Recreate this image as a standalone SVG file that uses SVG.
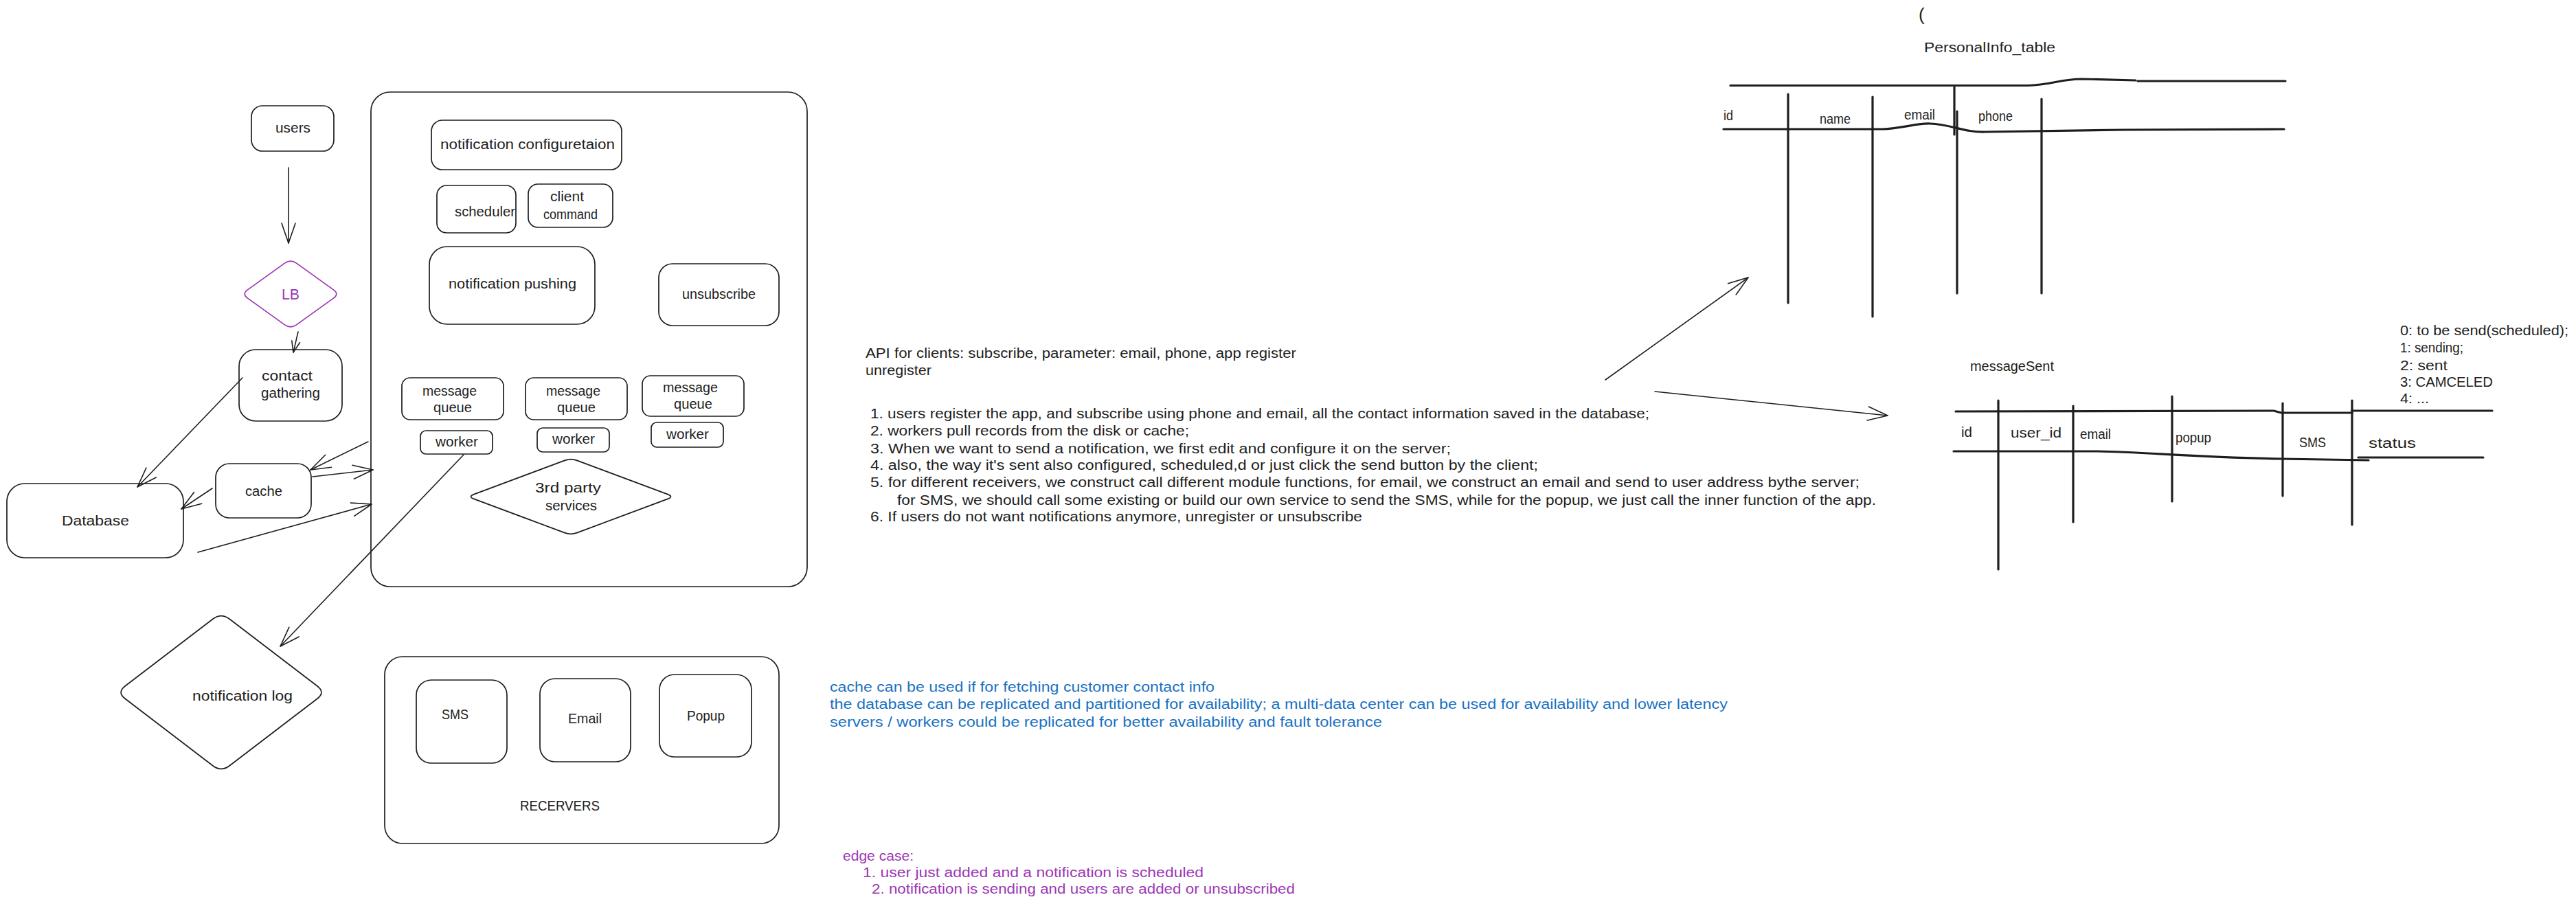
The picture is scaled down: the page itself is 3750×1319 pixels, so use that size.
<svg xmlns="http://www.w3.org/2000/svg" width="3750" height="1319" viewBox="0 0 3750 1319">
<defs>
<style>
.s{fill:none;stroke:#1e1e1e;stroke-width:1.7;stroke-linejoin:round;stroke-linecap:round}
.p{fill:none;stroke:#9c36b5;stroke-width:1.7;stroke-linejoin:round}
.tb{fill:none;stroke:#1e1e1e;stroke-width:3.2;stroke-linecap:round}
.c{fill:none;stroke:#1e1e1e;stroke-width:1.6;stroke-linecap:round}
.t{font-family:"Liberation Sans",Arial,sans-serif;font-size:20px;fill:#1e1e1e}
.lb{fill:#9c36b5;font-size:22px}
.bl{fill:#1971c2}
.pu{fill:#9c36b5}
</style>
<marker id="ah" markerUnits="userSpaceOnUse" viewBox="-32 -14 36 28" markerWidth="36" markerHeight="28" refX="0" refY="0" orient="auto">
<path d="M-29 -10 L0 0 L-29 10" fill="none" stroke="#1e1e1e" stroke-width="1.6" stroke-linecap="round" stroke-linejoin="round"/>
</marker>
<marker id="ahs" markerUnits="userSpaceOnUse" viewBox="-20 -10 24 20" markerWidth="24" markerHeight="20" refX="0" refY="0" orient="auto">
<path d="M-16 -6 L0 0 L-16 6" fill="none" stroke="#1e1e1e" stroke-width="1.6" stroke-linecap="round" stroke-linejoin="round"/>
</marker>
</defs>
<rect width="3750" height="1319" fill="#ffffff"/>

<g id="users"><rect class="s" x="366" y="154" width="120" height="66" rx="16"/><text class="t" x="401" y="193" textLength="51" lengthAdjust="spacingAndGlyphs">users</text></g>
<g id="lb"><path class="p" d="M431.5 383.1 L485.5 421.9 Q494 428 485.5 434.1 L431.5 472.9 Q423 479 414.5 472.9 L360.5 434.1 Q352 428 360.5 421.9 L414.5 383.1 Q423 377 431.5 383.1 Z"/><text class="t lb" x="410" y="436" textLength="26" lengthAdjust="spacingAndGlyphs">LB</text></g>
<g id="contact-gathering"><rect class="s" x="348" y="509" width="150" height="104" rx="24"/><text class="t" x="381" y="554" textLength="74" lengthAdjust="spacingAndGlyphs">contact</text><text class="t" x="380" y="579" textLength="86" lengthAdjust="spacingAndGlyphs">gathering</text></g>
<g id="cache"><rect class="s" x="314" y="675" width="139" height="79" rx="20"/><text class="t" x="357" y="722" textLength="54" lengthAdjust="spacingAndGlyphs">cache</text></g>
<g id="database"><rect class="s" x="10" y="704" width="257" height="108" rx="26"/><text class="t" x="90" y="765" textLength="98" lengthAdjust="spacingAndGlyphs">Database</text></g>

<g id="server-container"><rect class="s" x="540" y="134" width="635" height="720" rx="28"/></g>
<g id="notification-configuration"><rect class="s" x="628" y="175" width="277" height="72" rx="16"/><text class="t" x="641" y="217" textLength="254" lengthAdjust="spacingAndGlyphs">notification configuretaion</text></g>
<g id="scheduler"><rect class="s" x="636" y="270" width="115" height="69" rx="14"/><text class="t" x="662" y="315" textLength="88" lengthAdjust="spacingAndGlyphs">scheduler</text></g>
<g id="client-command"><rect class="s" x="769" y="268" width="123" height="63" rx="14"/><text class="t" x="801" y="293" textLength="49" lengthAdjust="spacingAndGlyphs">client</text><text class="t" x="791" y="319" textLength="79" lengthAdjust="spacingAndGlyphs">command</text></g>
<g id="notification-pushing"><rect class="s" x="625" y="359" width="241" height="113" rx="26"/><text class="t" x="653" y="420" textLength="186" lengthAdjust="spacingAndGlyphs">notification pushing</text></g>
<g id="unsubscribe"><rect class="s" x="959" y="384" width="175" height="90" rx="20"/><text class="t" x="993" y="435" textLength="107" lengthAdjust="spacingAndGlyphs">unsubscribe</text></g>
<g id="message-queue-1"><rect class="s" x="585" y="550" width="148" height="61" rx="12"/><text class="t" x="615" y="576" textLength="79" lengthAdjust="spacingAndGlyphs">message</text><text class="t" x="631" y="600" textLength="56" lengthAdjust="spacingAndGlyphs">queue</text></g>
<g id="worker-1"><rect class="s" x="612" y="627" width="105" height="34" rx="8"/><text class="t" x="634" y="650" textLength="62" lengthAdjust="spacingAndGlyphs">worker</text></g>
<g id="message-queue-2"><rect class="s" x="765" y="550" width="148" height="61" rx="12"/><text class="t" x="795" y="576" textLength="79" lengthAdjust="spacingAndGlyphs">message</text><text class="t" x="811" y="600" textLength="56" lengthAdjust="spacingAndGlyphs">queue</text></g>
<g id="worker-2"><rect class="s" x="782" y="623" width="105" height="35" rx="8"/><text class="t" x="804" y="646" textLength="62" lengthAdjust="spacingAndGlyphs">worker</text></g>
<g id="message-queue-3"><rect class="s" x="935" y="547" width="148" height="59" rx="12"/><text class="t" x="965" y="571" textLength="80" lengthAdjust="spacingAndGlyphs">message</text><text class="t" x="981" y="595" textLength="56" lengthAdjust="spacingAndGlyphs">queue</text></g>
<g id="worker-3"><rect class="s" x="948" y="615" width="105" height="36" rx="8"/><text class="t" x="970" y="639" textLength="62" lengthAdjust="spacingAndGlyphs">worker</text></g>
<g id="third-party-services"><path class="s" d="M840 670.4 L972 719.6 Q981 723 972 726.4 L840 775.6 Q831 779 822 775.6 L690 726.4 Q681 723 690 719.6 L822 670.4 Q831 667 840 670.4 Z"/><text class="t" x="779" y="717" textLength="96" lengthAdjust="spacingAndGlyphs">3rd party</text><text class="t" x="794" y="743" textLength="75" lengthAdjust="spacingAndGlyphs">services</text></g>

<g id="notification-log"><path class="s" d="M334.2 901.3 L461.8 998.7 Q474 1008 461.8 1017.3 L334.2 1114.7 Q322 1124 309.8 1114.7 L182.2 1017.3 Q170 1008 182.2 998.7 L309.8 901.3 Q322 892 334.2 901.3 Z"/><text class="t" x="280" y="1020" textLength="146" lengthAdjust="spacingAndGlyphs">notification log</text></g>
<g id="receivers"><rect class="s" x="560" y="956" width="574" height="272" rx="26"/><text class="t" x="757" y="1180" textLength="116" lengthAdjust="spacingAndGlyphs">RECERVERS</text></g>
<g id="sms"><rect class="s" x="606" y="990" width="132" height="121" rx="22"/><text class="t" x="643" y="1047" textLength="39" lengthAdjust="spacingAndGlyphs">SMS</text></g>
<g id="email"><rect class="s" x="786" y="988" width="132" height="121" rx="22"/><text class="t" x="827" y="1053" textLength="49" lengthAdjust="spacingAndGlyphs">Email</text></g>
<g id="popup"><rect class="s" x="960" y="982" width="134" height="120" rx="22"/><text class="t" x="1000" y="1049" textLength="55" lengthAdjust="spacingAndGlyphs">Popup</text></g>

<g id="connectors">
<line class="c" x1="420" y1="244" x2="420" y2="354" marker-end="url(#ah)"/>
<line class="c" x1="434" y1="483" x2="427" y2="513" marker-end="url(#ahs)"/>
<line class="c" x1="353" y1="550" x2="200" y2="709" marker-end="url(#ah)"/>
<line class="c" x1="309" y1="711" x2="264" y2="741" marker-end="url(#ah)"/>
<line class="c" x1="536" y1="643" x2="452" y2="684" marker-end="url(#ah)"/>
<line class="c" x1="455" y1="694" x2="543" y2="684" marker-end="url(#ah)"/>
<line class="c" x1="288" y1="804" x2="541" y2="734" marker-end="url(#ah)"/>
<line class="c" x1="675" y1="662" x2="408" y2="941" marker-end="url(#ah)"/>
<line class="c" x1="2337" y1="553" x2="2545" y2="404" marker-end="url(#ah)"/>
<line class="c" x1="2409" y1="570" x2="2748" y2="605" marker-end="url(#ah)"/>
</g>

<g id="notes">
<text class="t" x="1260" y="521" textLength="627" lengthAdjust="spacingAndGlyphs">API for clients: subscribe, parameter: email, phone, app register</text>
<text class="t" x="1260" y="546" textLength="96" lengthAdjust="spacingAndGlyphs">unregister</text>
<text class="t" x="1267" y="609" textLength="1134" lengthAdjust="spacingAndGlyphs">1. users register the app, and subscribe using phone and email, all the contact information saved in the database;</text>
<text class="t" x="1267" y="634" textLength="464" lengthAdjust="spacingAndGlyphs">2. workers pull records from the disk or cache;</text>
<text class="t" x="1267" y="660" textLength="845" lengthAdjust="spacingAndGlyphs">3. When we want to send a notification, we first edit and configure it on the server;</text>
<text class="t" x="1267" y="684" textLength="972" lengthAdjust="spacingAndGlyphs">4. also, the way it's sent also configured, scheduled,d or just click the send button by the client;</text>
<text class="t" x="1267" y="709" textLength="1440" lengthAdjust="spacingAndGlyphs">5. for different receivers, we construct call different module functions, for email, we construct an email and send to user address bythe server;</text>
<text class="t" x="1306" y="735" textLength="1425" lengthAdjust="spacingAndGlyphs">for SMS, we should call some existing or build our own service to send the SMS, while for the popup, we just call the inner function of the app.</text>
<text class="t" x="1267" y="759" textLength="716" lengthAdjust="spacingAndGlyphs">6. If users do not want notifications anymore, unregister or unsubscribe</text>
<text class="t bl" x="1208" y="1007" textLength="560" lengthAdjust="spacingAndGlyphs">cache can be used if for fetching customer contact info</text>
<text class="t bl" x="1208" y="1032" textLength="1307" lengthAdjust="spacingAndGlyphs">the database can be replicated and partitioned for availability; a multi-data center can be used for availability and lower latency</text>
<text class="t bl" x="1208" y="1058" textLength="804" lengthAdjust="spacingAndGlyphs">servers / workers could be replicated for better availability and fault tolerance</text>
<text class="t pu" x="1227" y="1253" textLength="103" lengthAdjust="spacingAndGlyphs">edge case:</text>
<text class="t pu" x="1256" y="1277" textLength="496" lengthAdjust="spacingAndGlyphs">1. user just added and a notification is scheduled</text>
<text class="t pu" x="1269" y="1301" textLength="616" lengthAdjust="spacingAndGlyphs">2. notification is sending and users are added or unsubscribed</text>
</g>

<g id="personal-info-table">
<text class="t" x="2793" y="30" style="font-size:26px">(</text>
<text class="t" x="2801" y="76" textLength="191" lengthAdjust="spacingAndGlyphs">PersonalInfo_table</text>
<path class="tb" d="M2519 124.5 L2952 124.5 C2985 124 3000 115 3030 115 L3109 117 M3112 118 L3327 118"/>
<path class="tb" d="M2509 188 L2740 188 C2770 187 2790 179 2810 180 C2840 181 2860 193 2890 192 L3091 189 L3325 188"/>
<path class="tb" d="M2603 137 V441 M2726 141 V461 M2845 127 V196 M2849 162 V427 M2972 144 V427"/>
<text class="t" x="2509" y="175" textLength="14" lengthAdjust="spacingAndGlyphs">id</text>
<text class="t" x="2649" y="180" textLength="45" lengthAdjust="spacingAndGlyphs">name</text>
<text class="t" x="2772" y="174" textLength="45" lengthAdjust="spacingAndGlyphs">email</text>
<text class="t" x="2880" y="176" textLength="50" lengthAdjust="spacingAndGlyphs">phone</text>
</g>

<g id="message-sent-table">
<text class="t" x="2868" y="540" textLength="122" lengthAdjust="spacingAndGlyphs">messageSent</text>
<path class="tb" d="M2847 599 L3310 598 L3321 601 L3424 601 L3424 598 L3628 598"/>
<path class="tb" d="M2844 657 L3054 657 C3120 658 3200 666 3321 668 L3448 670 M3433 666 L3615 666"/>
<path class="tb" d="M2909 583 V829 M3018 591 V760 M3162 577 V730 M3323 587 V722 M3424 583 V764"/>
<text class="t" x="2855" y="636" textLength="16" lengthAdjust="spacingAndGlyphs">id</text>
<text class="t" x="2927" y="637" textLength="74" lengthAdjust="spacingAndGlyphs">user_id</text>
<text class="t" x="3028" y="639" textLength="45" lengthAdjust="spacingAndGlyphs">email</text>
<text class="t" x="3167" y="644" textLength="52" lengthAdjust="spacingAndGlyphs">popup</text>
<text class="t" x="3347" y="651" textLength="39" lengthAdjust="spacingAndGlyphs">SMS</text>
<text class="t" x="3448" y="652" textLength="69" lengthAdjust="spacingAndGlyphs">status</text>
<text class="t" x="3494" y="488" textLength="245" lengthAdjust="spacingAndGlyphs">0: to be send(scheduled);</text>
<text class="t" x="3494" y="513" textLength="92" lengthAdjust="spacingAndGlyphs">1: sending;</text>
<text class="t" x="3494" y="539" textLength="69" lengthAdjust="spacingAndGlyphs">2: sent</text>
<text class="t" x="3494" y="563" textLength="135" lengthAdjust="spacingAndGlyphs">3: CAMCELED</text>
<text class="t" x="3494" y="587" textLength="42" lengthAdjust="spacingAndGlyphs">4: ...</text>
</g>
</svg>
